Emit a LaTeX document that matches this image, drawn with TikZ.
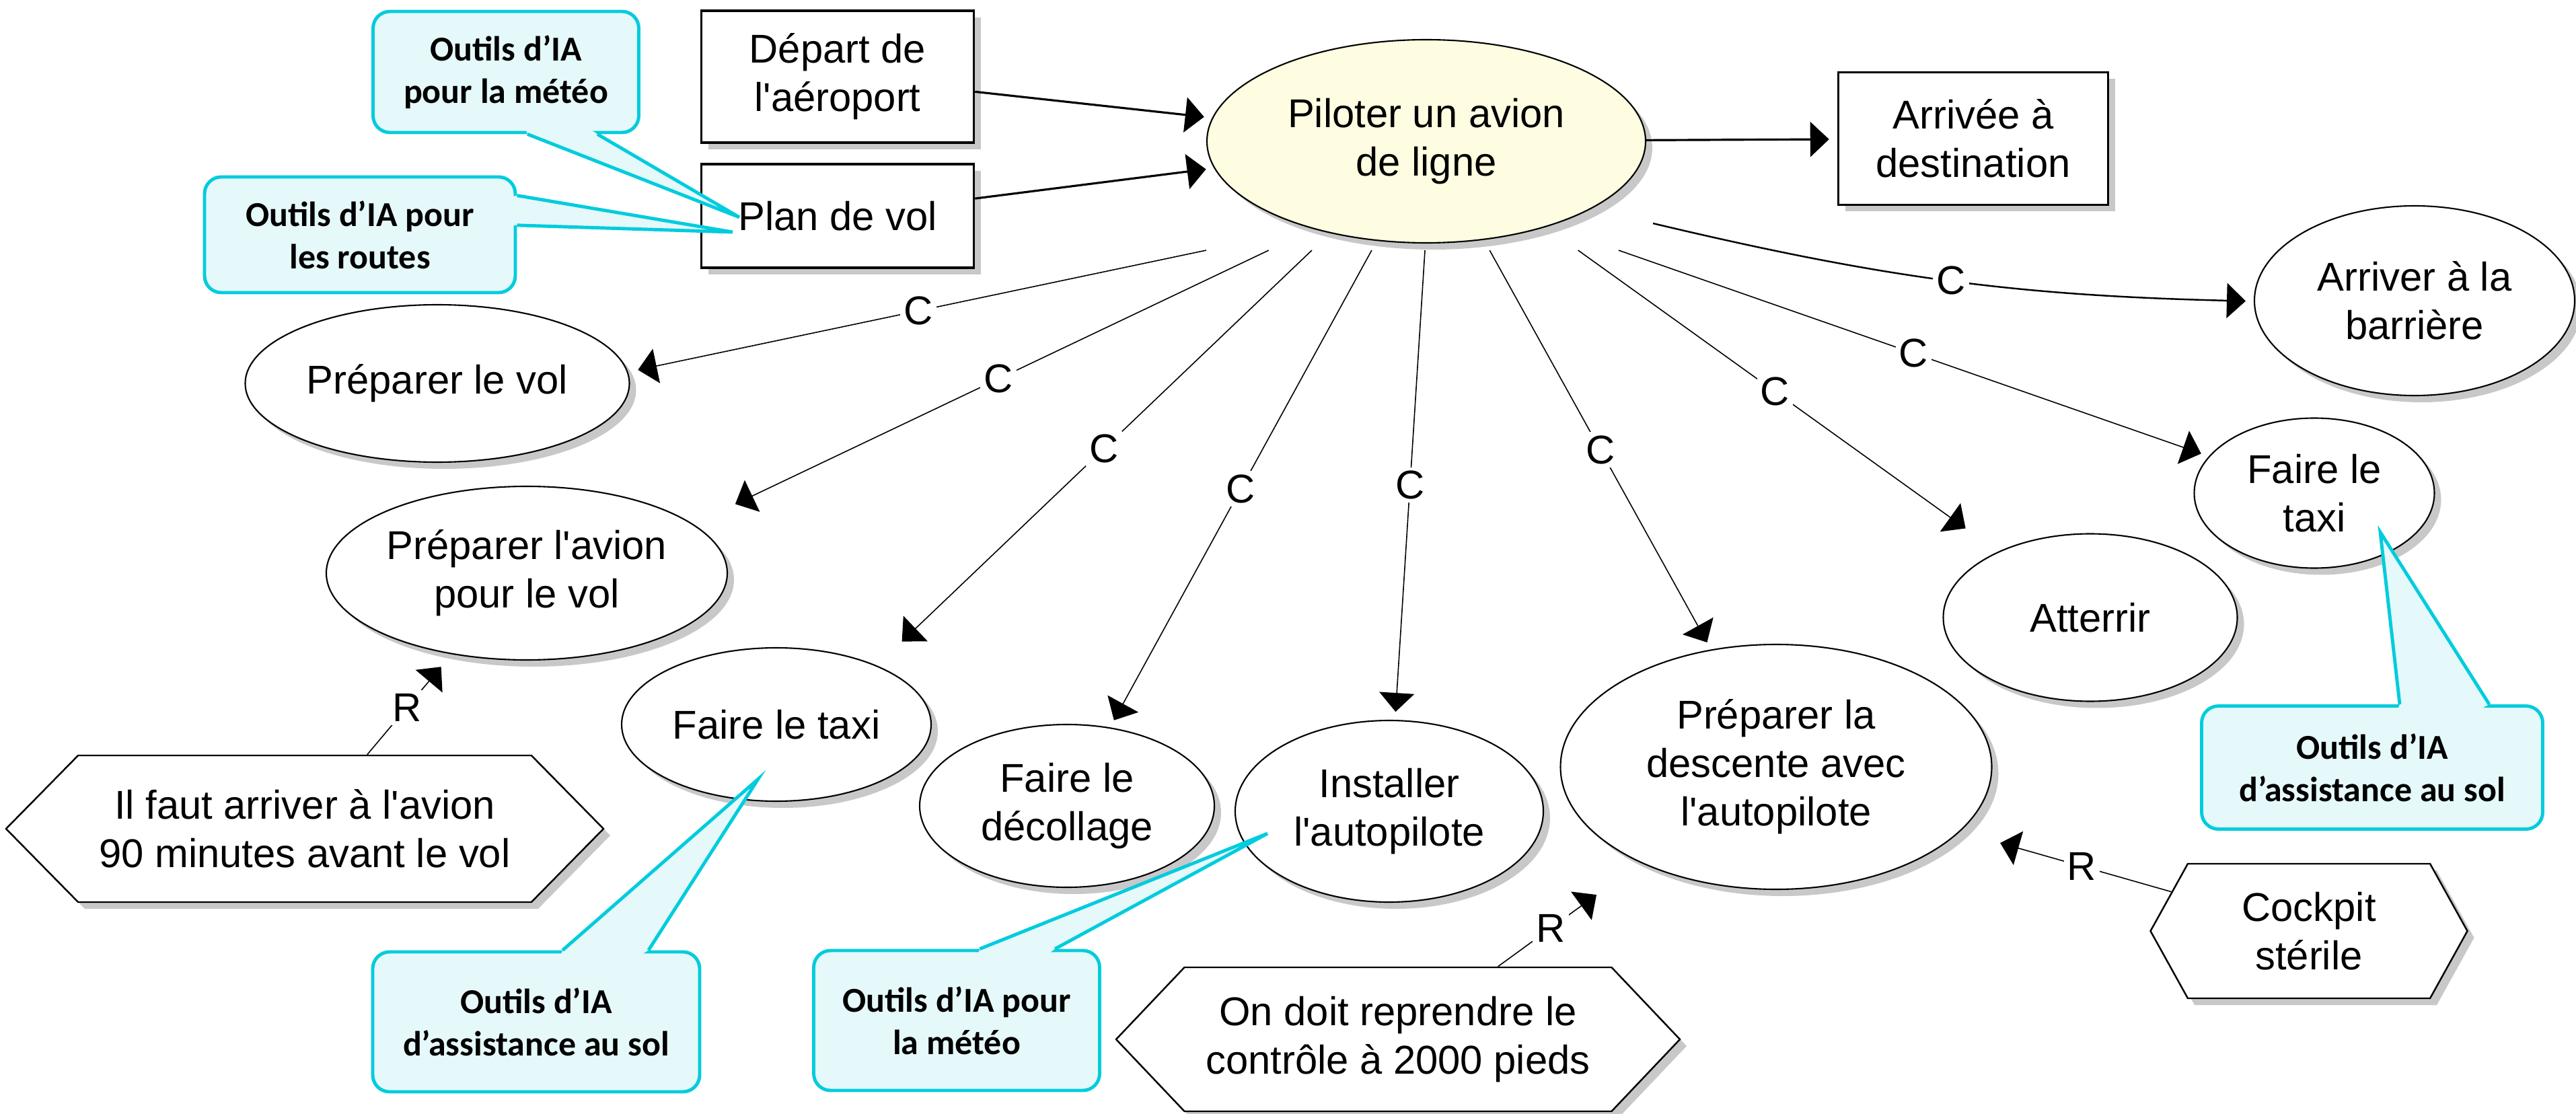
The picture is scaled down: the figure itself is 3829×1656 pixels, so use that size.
\documentclass[tikz,border=0pt]{standalone}
\usepackage{fontspec}
\setmainfont{Liberation Sans}
\newfontfamily\notefont{Carlito}
\usetikzlibrary{shapes.geometric,shapes.symbols,shadows,arrows.meta,calc}
\definecolor{pilotfill}{RGB}{255,253,225}
\definecolor{noteline}{RGB}{0,204,221}
\definecolor{notefill}{RGB}{229,248,250}
\definecolor{shadegray}{RGB}{200,200,200}
\newcommand\sq{\textquotesingle}

\begin{document}
\begin{tikzpicture}[x=0.1mm,y=-0.1mm,
  every node/.style={font=\fontsize{17}{20.5}\selectfont,align=center,inner sep=0pt},
  shd/.style={drop shadow={shadow xshift=1mm,shadow yshift=-1mm,fill=shadegray,opacity=1}},
  task/.style={ellipse,draw,line width=0.6pt,fill=white,shd},
  event/.style={rectangle,draw,line width=1pt,fill=white,shd},
  rulebox/.style={signal,signal to=east and west,draw,line width=0.7pt,fill=white,shd},
  aibox/.style={rectangle,rounded corners=2.5mm,draw=noteline,line width=1.4pt,fill=notefill,
    font=\notefont\bfseries\fontsize{14.8}{18}\selectfont},
  rel/.style={-{Triangle[length=2.8mm,width=5.2mm]},line width=0.45pt,shorten >=1.2mm},
  lab/.style={fill=white,inner sep=1.5pt}]
\useasboundingbox (0,0) rectangle (3829,1656);

% concepts and the main procedure
\node[event,minimum width=40.5mm,minimum height=19.6mm] (dep) at (1245,114) {Départ de\\l\sq aéroport};
\node[event,minimum width=40.5mm,minimum height=15.4mm] (plan) at (1245,321) {Plan de vol};
\node[task,fill=pilotfill,minimum width=65.2mm,minimum height=30.2mm] (pil) at (2120,210) {Piloter un avion\\de ligne};
\node[event,minimum width=40.1mm,minimum height=19.7mm] (arr) at (2933,206) {Arrivée à\\destination};

% sub-procedures
\node[task,minimum width=47.6mm,minimum height=28.2mm] (barr) at (3589,447) {Arriver à la\\barrière};
\node[task,minimum width=57.1mm,minimum height=23.4mm] (pvol) at (650,570) {Préparer le vol};
\node[task,minimum width=59.6mm,minimum height=25.8mm] (pav) at (783,852) {Préparer l\sq avion\\pour le vol};
\node[task,minimum width=46mm,minimum height=22.8mm] (taxa) at (1154,1077) {Faire le taxi};
\node[task,minimum width=43.8mm,minimum height=24.2mm] (dec) at (1586,1198) {Faire le\\décollage};
\node[task,minimum width=45.8mm,minimum height=27mm] (auto) at (2065,1206) {Installer\\l\sq autopilote};
\node[task,minimum width=64.1mm,minimum height=36.4mm] (desc) at (2640,1140) {Préparer la\\descente avec\\l\sq autopilote};
\node[task,minimum width=43.7mm,minimum height=24.9mm] (att) at (3107,918) {Atterrir};
\node[task,minimum width=35.7mm,minimum height=22.3mm] (taxb) at (3440,733) {Faire le\\taxi};

% rules
\node[rulebox,signal pointer angle=91,minimum width=88.8mm,minimum height=21.8mm] (r1) at (453,1232) {Il faut arriver à l\sq avion\\90 minutes avant le vol};
\node[rulebox,signal pointer angle=93,minimum width=83.8mm,minimum height=21.4mm] (r2) at (2078,1545) {On doit reprendre le\\contrôle à 2000 pieds};
\node[rulebox,signal pointer angle=122,minimum width=47.1mm,minimum height=20mm] (r3) at (3432,1384) {Cockpit\\stérile};

% links
\draw[rel,line width=0.9pt] (dep) -- (pil);
\draw[rel,line width=0.9pt] (plan) -- (pil);
\draw[rel,line width=0.9pt] (pil) -- (arr);

\foreach \i/\f in {1/0,2/.142,3/.24,4/.376,5/.497,6/.644,7/.845,8/.937}
  \coordinate (s\i) at ($(pil.west |- pil.south)!\f!(pil.east |- pil.south)+(0,10)$);
\draw[rel] (s1) -- node[lab]{C} ($(pvol.east)!.15!(pvol.east |- pvol.north)$);
\draw[rel] (s2) -- node[lab]{C} ($(pav.east |- pav.north)!.25!(pav.east)$);
\draw[rel] (s3) -- node[lab]{C} ($(taxa.north)!.77!(taxa.east |- taxa.north)$);
\draw[rel] (s4) -- node[lab]{C} (dec);
\draw[rel] (s5) -- node[lab]{C} (auto);
\draw[rel] (s6) -- node[lab]{C} (desc);
\draw[rel] (s7) -- node[lab]{C} ($(att.west |- att.north)!.1!(att.east |- att.north)$);
\draw[rel] (s8) -- node[lab]{C} (taxb);
\draw[rel,line width=0.7pt] ($(pil.east |- pil.south)+(10,-30)$) to[bend right=6] node[lab]{C} (barr);

\draw[rel] (r1) -- node[lab]{R} ($(pav.west |- pav.south)!.6!(pav.south)$);
\draw[rel] (r2) -- node[lab]{R} ($(desc.west |- desc.south)!.1!(desc.east |- desc.south)$);
\draw[rel] (r3) -- node[lab]{R} ($(desc.east)!.6!(desc.east |- desc.south)$);

% AI tool notes
\node[aibox,minimum width=39.5mm,minimum height=18mm] (n1) at (752,107) {Outils d’IA\\pour la météo};
\node[aibox,minimum width=46.2mm,minimum height=17.2mm] (n2) at (535,349) {Outils d’IA pour\\les routes};
\node[aibox,minimum width=48.6mm,minimum height=20.8mm] (n3) at (797,1519) {Outils d’IA\\d’assistance au sol};
\node[aibox,minimum width=42.5mm,minimum height=20.8mm] (n4) at (1422,1517) {Outils d’IA pour\\la météo};
\node[aibox,minimum width=50.7mm,minimum height=18.3mm] (n5) at (3526,1141) {Outils d’IA\\d’assistance au sol};
\coordinate (t1) at (1099,323);
\coordinate (t2) at (1089,345);
\coordinate (t3) at (1127,1158);
\coordinate (t4) at (1884,1239);
\coordinate (t5) at (3538,791);
\foreach \b/\p/\q/\fa/\fb/\t in {n1/south west/south east/.58/.84/t1,
    n2/north east/south east/.17/.42/t2, n3/north west/north east/.58/.84/t3,
    n4/north west/north east/.58/.84/t4, n5/north west/north east/.58/.84/t5}{
  \coordinate (pa) at ($(\b.\p)!\fa!(\b.\q)$);
  \coordinate (pb) at ($(\b.\p)!\fb!(\b.\q)$);
  \fill[notefill] ($(pa)!1mm!(\b.center)$) -- (pa) -- (\t) -- (pb) -- ($(pb)!1mm!(\b.center)$) -- cycle;
  \draw[noteline,line width=1.4pt] (pa) -- (\t) -- (pb);
}
\end{tikzpicture}
\end{document}
